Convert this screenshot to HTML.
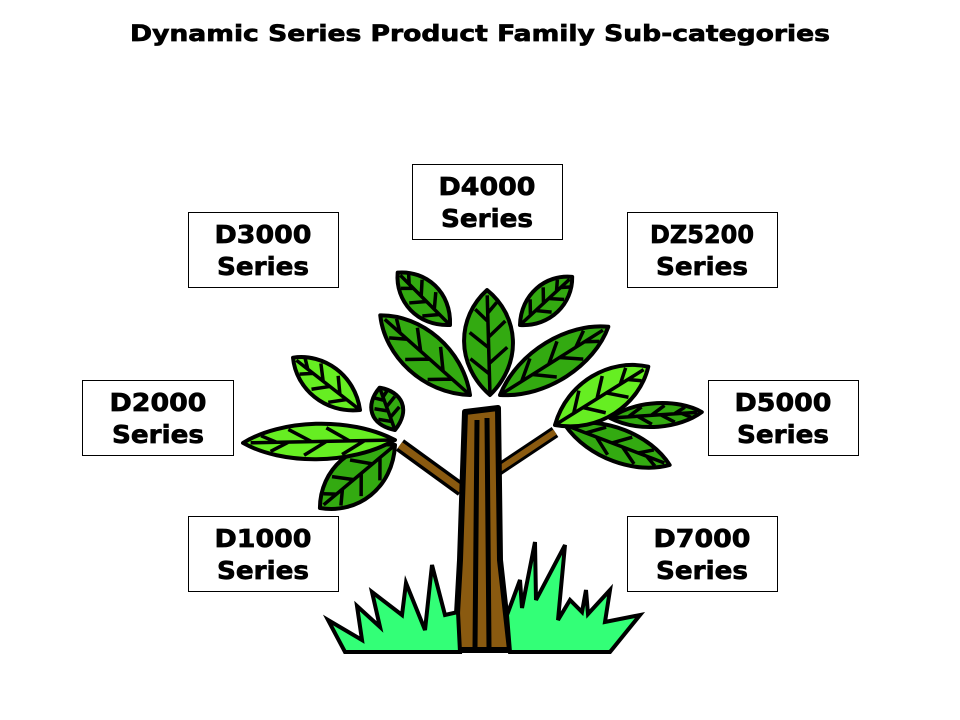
<!DOCTYPE html>
<html><head><meta charset="utf-8"><style>
html,body{margin:0;padding:0;background:#fff}
svg{display:block}
text{font-family:"DejaVu Sans","Liberation Sans",sans-serif;font-weight:bold;fill:#000;stroke:#000;stroke-width:0.7}
</style></head><body>
<svg width="960" height="720" viewBox="0 0 960 720" xmlns="http://www.w3.org/2000/svg">
<defs>
<g id="leaf">
<path d="M0,0 C0.3,-0.55 0.75,-0.5 1,0 C0.75,0.5 0.3,0.55 0,0Z" stroke="#000" stroke-width="4" vector-effect="non-scaling-stroke" stroke-linejoin="round"/>
<path d="M0,0 L0.95,0 M0.2,0 L0.35,-0.3 M0.45,0 L0.6,-0.3 M0.7,0 L0.82,-0.2 M0.3,0 L0.45,0.3 M0.55,0 L0.7,0.28 M0.78,0 L0.88,0.15" stroke="#000" stroke-width="3.5" vector-effect="non-scaling-stroke" fill="none"/>
</g>
</defs>
<text x="480" y="41" font-size="22" text-anchor="middle" textLength="700" lengthAdjust="spacingAndGlyphs">Dynamic Series Product Family Sub-categories</text>

<g fill="#fff" stroke="#000" stroke-width="1">
<rect x="412.5" y="164.5" width="150" height="75"/>
<rect x="188.5" y="212.5" width="150" height="75"/>
<rect x="627.5" y="212.5" width="150" height="75"/>
<rect x="82.5" y="380.5" width="151" height="75"/>
<rect x="708.5" y="380.5" width="150" height="75"/>
<rect x="188.5" y="516.5" width="150" height="75"/>
<rect x="627.5" y="516.5" width="150" height="75"/>
</g>
<g font-size="25" text-anchor="middle">
<text x="487" y="195" textLength="97" lengthAdjust="spacingAndGlyphs">D4000</text><text x="487" y="227" textLength="92" lengthAdjust="spacingAndGlyphs">Series</text>
<text x="263" y="243" textLength="97" lengthAdjust="spacingAndGlyphs">D3000</text><text x="263" y="275" textLength="92" lengthAdjust="spacingAndGlyphs">Series</text>
<text x="702" y="243" textLength="104" lengthAdjust="spacingAndGlyphs">DZ5200</text><text x="702" y="275" textLength="92" lengthAdjust="spacingAndGlyphs">Series</text>
<text x="158" y="411" textLength="97" lengthAdjust="spacingAndGlyphs">D2000</text><text x="158" y="443" textLength="92" lengthAdjust="spacingAndGlyphs">Series</text>
<text x="783" y="411" textLength="97" lengthAdjust="spacingAndGlyphs">D5000</text><text x="783" y="443" textLength="92" lengthAdjust="spacingAndGlyphs">Series</text>
<text x="263" y="547" textLength="97" lengthAdjust="spacingAndGlyphs">D1000</text><text x="263" y="579" textLength="92" lengthAdjust="spacingAndGlyphs">Series</text>
<text x="702" y="547" textLength="97" lengthAdjust="spacingAndGlyphs">D7000</text><text x="702" y="579" textLength="92" lengthAdjust="spacingAndGlyphs">Series</text>
</g>

<!-- branches -->
<path d="M400,445 L462,490" stroke="#000" stroke-width="14"/>
<path d="M400,445 L462,490" stroke="#8a5a10" stroke-width="7"/>
<path d="M498,470 L555,432" stroke="#000" stroke-width="12"/>
<path d="M498,470 L555,432" stroke="#8a5a10" stroke-width="6"/>
<!-- trunk -->
<path d="M465,412 L498,408 L500,560 L510,650 L455,650 L460,560Z" fill="#8a5a10" stroke="#000" stroke-width="6" stroke-linejoin="round"/>
<path d="M477,420 L475,648 M487,418 L489,648" stroke="#000" stroke-width="5"/>
<!-- grass -->
<path d="M328,620 L362,640 L357,606 L380,627 L372,592 L402,615 L406,583 L425,630 L432,565 L445,615 L458,612 L460,652 L345,652 Z" fill="#33ff77" stroke="#000" stroke-width="4" stroke-linejoin="miter"/>
<path d="M507,615 L520,580 L522,608 L535,542 L536,600 L565,545 L558,620 L570,600 L582,612 L586,590 L588,614 L610,590 L605,622 L640,615 L610,652 L510,652 Z" fill="#33ff77" stroke="#000" stroke-width="4"/>

<!-- leaves -->
<g fill="#33aa11">
<use href="#leaf" transform="translate(470,395) rotate(-138.4) scale(120,55)"/>
<use href="#leaf" transform="translate(500,395) rotate(-32.2) scale(128,50)"/>
<use href="#leaf" transform="translate(450,325) rotate(-135) scale(74,44)"/>
<use href="#leaf" transform="translate(520,325) rotate(-42.7) scale(71,40)"/>
<use href="#leaf" transform="translate(490,395) rotate(-91.6) scale(105,62)"/>
<use href="#leaf" transform="translate(395,430) rotate(-110) scale(45,40)"/>
<use href="#leaf" transform="translate(610,418) rotate(-3.7) scale(92,30)"/>
<use href="#leaf" transform="translate(565,425) rotate(20.9) scale(112,42)"/>
<use href="#leaf" transform="translate(395,445) rotate(140) scale(98,58)"/>
</g>
<g fill="#66ee22">
<use href="#leaf" transform="translate(360,410) rotate(-142) scale(85,45)"/>
<use href="#leaf" transform="translate(395,440) rotate(178.9) scale(152,45)"/>
<use href="#leaf" transform="translate(555,425) rotate(-32) scale(110,55)"/>
</g>
</svg>
</body></html>
